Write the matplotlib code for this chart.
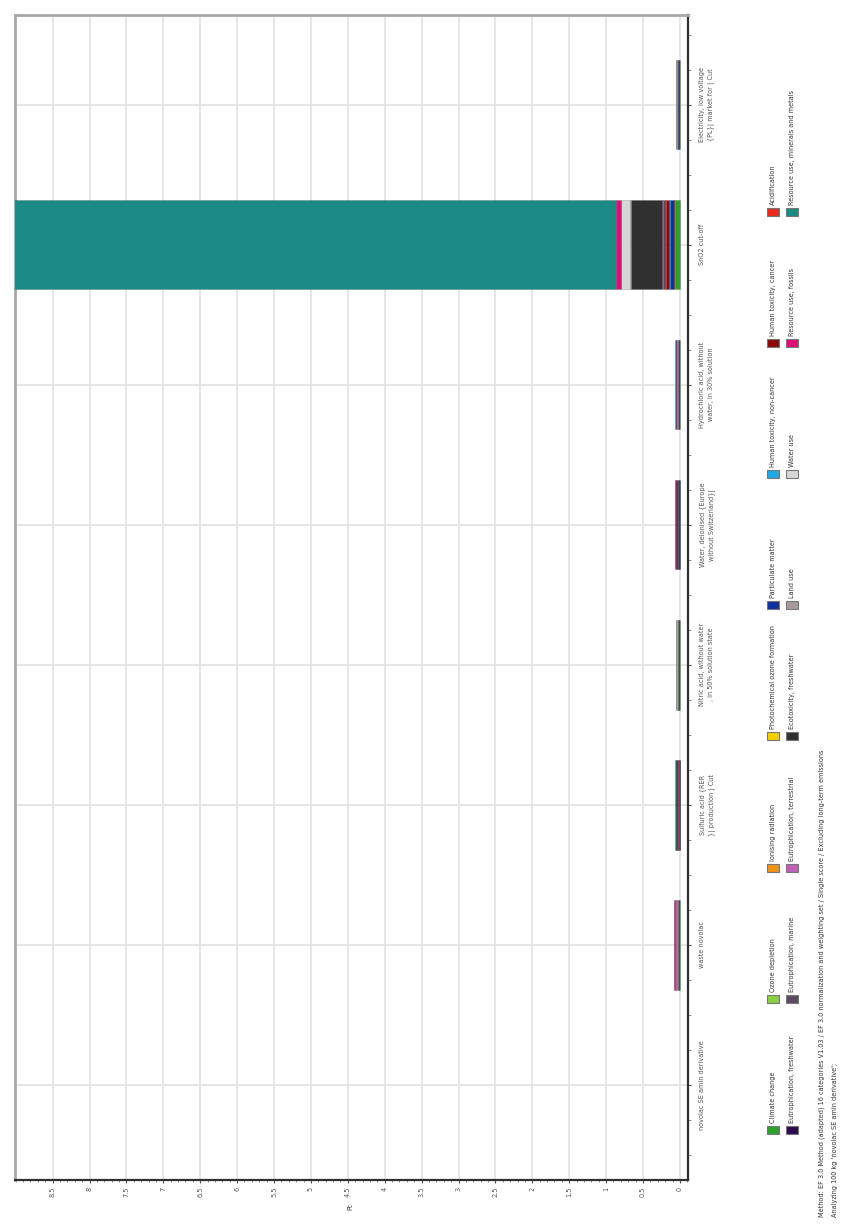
import numpy as np
import matplotlib
matplotlib.use("Agg")
import matplotlib.pyplot as plt
from matplotlib.patches import Rectangle
from matplotlib.ticker import MultipleLocator

plt.rcParams['font.family'] = ['Liberation Sans Narrow', 'DejaVu Sans']
plt.rcParams['font.size'] = 4.7
plt.rcParams['text.color'] = '#333333'

# products (bottom to top)
products = [
    "novolac SE amin derivative",
    "waste novolac",
    "Sulfuric acid {RER\n}| production | Cut",
    "Nitric acid, without water\n, in 50% solution state",
    "Water, deionised {Europe\nwithout Switzerland}|",
    "Hydrochloric acid, without\nwater, in 30% solution",
    "SnO2 cut-off",
    "Electricity, low voltage\n{PL}| market for | Cut",
]

impacts = [
    "Climate change", "Ozone depletion", "Ionising radiation",
    "Photochemical ozone formation", "Particulate matter",
    "Human toxicity, non-cancer", "Human toxicity, cancer", "Acidification",
    "Eutrophication, freshwater", "Eutrophication, marine",
    "Eutrophication, terrestrial", "Ecotoxicity, freshwater", "Land use",
    "Water use", "Resource use, fossils", "Resource use, minerals and metals",
]
colors = [
    "#2e9e2e", "#8ccf44", "#f0921a", "#f2d000", "#10309e", "#1ea8e6",
    "#8a0a0a", "#e82a1e", "#2e0a4e", "#5a4c5e", "#c060b8", "#303030",
    "#a89a9a", "#d6d6d6", "#e0107a", "#1a8a85",
]

# single score in Pt, one list per impact category, same order as products
climate_change     = [0, 0.008, 0.004, 0.012, 0.004, 0.006, 0.070, 0.012]
ozone_depletion    = [0, 0.000, 0.000, 0.000, 0.000, 0.000, 0.002, 0.000]
ionising_radiation = [0, 0.000, 0.000, 0.000, 0.000, 0.000, 0.004, 0.001]
photochem_ozone    = [0, 0.000, 0.001, 0.001, 0.000, 0.000, 0.008, 0.001]
particulate_matter = [0, 0.002, 0.008, 0.002, 0.006, 0.005, 0.050, 0.008]
htox_non_cancer    = [0, 0.000, 0.000, 0.000, 0.000, 0.000, 0.008, 0.000]
htox_cancer        = [0, 0.000, 0.002, 0.000, 0.001, 0.001, 0.040, 0.001]
acidification      = [0, 0.001, 0.004, 0.002, 0.002, 0.002, 0.015, 0.002]
eutro_freshwater   = [0, 0.002, 0.002, 0.000, 0.002, 0.002, 0.010, 0.001]
eutro_marine       = [0, 0.008, 0.018, 0.002, 0.020, 0.008, 0.020, 0.006]
eutro_terrestrial  = [0, 0.034, 0.004, 0.004, 0.006, 0.022, 0.015, 0.001]
ecotox_freshwater  = [0, 0.004, 0.008, 0.002, 0.008, 0.004, 0.420, 0.002]
land_use           = [0, 0.002, 0.002, 0.012, 0.002, 0.001, 0.010, 0.006]
water_use          = [0, 0.003, 0.003, 0.016, 0.008, 0.002, 0.120, 0.010]
resource_fossils   = [0, 0.010, 0.003, 0.003, 0.002, 0.006, 0.075, 0.001]
resource_minerals  = [0, 0.001, 0.001, 0.001, 0.001, 0.001, 14.00, 0.004]

scores = [
    climate_change, ozone_depletion, ionising_radiation, photochem_ozone,
    particulate_matter, htox_non_cancer, htox_cancer, acidification,
    eutro_freshwater, eutro_marine, eutro_terrestrial, ecotox_freshwater,
    land_use, water_use, resource_fossils, resource_minerals,
]

W, H = 844, 1224
fig = plt.figure(figsize=(W / 100, H / 100), dpi=100)


def fx(px):
    return px / W


def fy(py):
    return 1 - py / H


ax = fig.add_axes([fx(15), fy(1180), fx(688) - fx(15), fy(15) - fy(1180)])

ypos = np.arange(len(products))
left = np.zeros(len(products))
for name, vals, c in zip(impacts, scores, colors):
    vals = np.array(vals)
    lw = [0.4 if v > 0 else 0 for v in vals]
    ax.barh(ypos, vals, left=left, height=0.64, color=c,
            edgecolor=(0, 0, 0, 0.25), linewidth=lw, zorder=3)
    left += vals

ax.set_xlim(9.01, -0.11)
ax.set_ylim(-0.68, 7.64)

# value axis along the bottom, labels turned with the chart
ax.set_xticks(np.arange(0, 8.51, 0.5))
ax.set_xticklabels([f"{v:g}" for v in np.arange(0, 8.51, 0.5)], rotation=90)
ax.xaxis.set_minor_locator(MultipleLocator(0.1))
ax.tick_params(axis='x', which='major', length=2, pad=3, colors='#555555')
ax.tick_params(axis='x', which='minor', length=1.5, colors='#777777')

# product axis on the right
ax.yaxis.tick_right()
ax.set_yticks(ypos)
ax.set_yticklabels(products, rotation=90, ha='left', va='center',
                   multialignment='center', linespacing=1.6)
ax.yaxis.set_minor_locator(MultipleLocator(0.25))
ax.tick_params(axis='y', which='major', length=2, pad=6, colors='#555555')
ax.tick_params(axis='y', which='minor', length=2, colors='#777777')

ax.grid(True, axis='both', which='major', color='#e2e2e2', linewidth=1.2, zorder=0)
ax.set_axisbelow(True)

for side in ('left', 'top'):
    ax.spines[side].set_color('#a8a8a8')
    ax.spines[side].set_linewidth(2)
for side in ('right', 'bottom'):
    ax.spines[side].set_color('#303030')
    ax.spines[side].set_linewidth(1.6)

fig.text(fx(350), fy(1207), "Pt", rotation=90, ha='center', va='center')

# legend: two columns of swatches, eight per column
for i, (name, c) in enumerate(zip(impacts, colors)):
    row, col = divmod(i, 8)
    cx = 773 + 19 * row
    cy = 1130 - 131.2 * col
    fig.add_artist(Rectangle((fx(cx - 6), fy(cy + 4)), fx(12), 8 / H,
                             transform=fig.transFigure, facecolor=c,
                             edgecolor='#777777', linewidth=0.8))
    fig.text(fx(cx), fy(cy - 7), name, rotation=90, ha='center', va='bottom')

fig.text(fx(822), fy(1217),
         "Method: EF 3.0 Method (adapted) 16 categories V1.03 / EF 3.0 normalization "
         "and weighting set / Single score / Excluding long-term emissions",
         rotation=90, ha='center', va='bottom')
fig.text(fx(835), fy(1217), "Analyzing 100 kg 'novolac SE amin derivative';",
         rotation=90, ha='center', va='bottom')

fig.savefig("out.png", dpi=100)
